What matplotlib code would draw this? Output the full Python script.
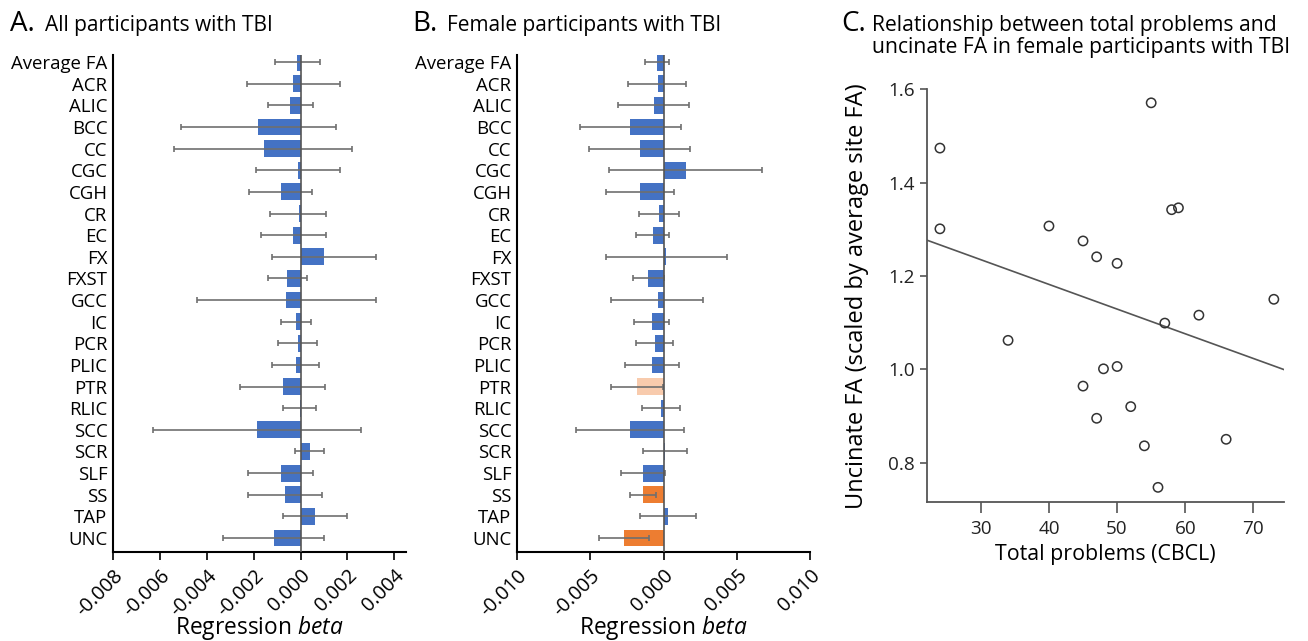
import numpy as np
import matplotlib
matplotlib.use('Agg')
import matplotlib.pyplot as plt
from matplotlib import rcParams

rcParams['font.family'] = 'Open Sans'
rcParams['mathtext.fontset'] = 'custom'
rcParams['mathtext.it'] = 'Open Sans:italic'
rcParams['mathtext.rm'] = 'Open Sans'

# Tract labels (top to bottom)
tracts = ['Average FA', 'ACR', 'ALIC', 'BCC', 'CC', 'CGC', 'CGH', 'CR', 'EC', 'FX',
          'FXST', 'GCC', 'IC', 'PCR', 'PLIC', 'PTR', 'RLIC', 'SCC', 'SCR', 'SLF',
          'SS', 'TAP', 'UNC']

# Panel A: all participants
beta_all = [-0.00014, -0.00033, -0.00043, -0.0018, -0.00157, -0.0001, -0.00085, -0.00005,
            -0.0003, 0.001, -0.00057, -0.0006, -0.0002, -0.0001, -0.0002, -0.00075,
            -0.00002, -0.00185, 0.0004, -0.00084, -0.00067, 0.00061, -0.00114]
lo_all = [-0.0011, -0.0023, -0.0014, -0.0051, -0.0054, -0.0019, -0.0022, -0.0013,
          -0.0017, -0.0012, -0.0014, -0.0044, -0.00085, -0.00095, -0.0012, -0.0026,
          -0.00074, -0.0063, -0.00023, -0.00225, -0.00225, -0.00075, -0.0033]
hi_all = [0.00085, 0.0017, 0.00053, 0.0015, 0.0022, 0.0017, 0.0005, 0.0011,
          0.00107, 0.0032, 0.00028, 0.0032, 0.00046, 0.0007, 0.0008, 0.00104,
          0.00064, 0.00256, 0.001, 0.00054, 0.0009, 0.002, 0.001]

# Panel B: female participants
beta_fem = [-0.00046, -0.0004, -0.00068, -0.0023, -0.0016, 0.0015, -0.0016, -0.0003,
            -0.00073, 0.00018, -0.00105, -0.0004, -0.00077, -0.0006, -0.00077, -0.0018,
            -0.00018, -0.0023, 0.0001, -0.0014, -0.0014, 0.00027, -0.0027]
lo_fem = [-0.0013, -0.0024, -0.0031, -0.0057, -0.0051, -0.0037, -0.0039, -0.00166,
          -0.0019, -0.0039, -0.0021, -0.0036, -0.002, -0.0019, -0.0026, -0.0036,
          -0.0015, -0.006, -0.00137, -0.0029, -0.0023, -0.0016, -0.0044]
hi_fem = [0.00036, 0.0015, 0.00175, 0.0012, 0.0018, 0.0067, 0.0007, 0.00105,
          0.00034, 0.0043, 0.0, 0.0027, 0.00036, 0.00064, 0.00105, -0.00007,
          0.00114, 0.00137, 0.0016, 0.0001, -0.0005, 0.0022, -0.001]
# significance class per tract in panel B: 0 = n.s., 1 = trend, 2 = significant
sig_fem = [0] * 15 + [1] + [0] * 4 + [2, 0, 2]

# Panel C: total problems vs uncinate FA
cbcl = [24, 24, 55, 40, 45, 47, 50, 58, 59, 73, 62, 57, 34, 48, 50, 45, 52, 47, 54, 66, 56]
unc_fa = [1.474, 1.301, 1.571, 1.307, 1.275, 1.241, 1.227, 1.342, 1.346, 1.15, 1.116,
          1.099, 1.062, 1.001, 1.006, 0.964, 0.92, 0.895, 0.836, 0.85, 0.747]

blue = '#4472c4'
sig_colors = {0: blue, 1: '#f8cbad', 2: '#ed7d31'}
err_col = '#6f6f6f'

fig = plt.figure(figsize=(13.08, 6.41), dpi=100)


def forest(ax, beta, lo, hi, colors, xlim, xticks, fmt):
    y = np.arange(len(tracts))
    beta = np.array(beta)
    ax.barh(y, beta, height=0.78, color=colors, zorder=2)
    err = np.vstack([beta - np.array(lo), np.array(hi) - beta])
    ax.errorbar(beta, y, xerr=err, fmt='none', ecolor=err_col, elinewidth=1.2,
                capsize=2.5, capthick=1.2, zorder=3)
    ax.axvline(0, color='#555555', lw=1.2, zorder=4)
    ax.set_ylim(22.65, -0.33)
    ax.set_xlim(*xlim)
    ax.set_yticks(y)
    ax.set_yticklabels(tracts, fontsize=13.4)
    ax.tick_params(axis='y', length=0, pad=4)
    ax.set_xticks(xticks)
    ax.set_xticklabels([fmt.format(t) for t in xticks], rotation=45, ha='right',
                       rotation_mode='anchor', fontsize=14.3)
    ax.tick_params(axis='x', length=6, width=1.2, direction='out', pad=4)
    for s in ['top', 'right']:
        ax.spines[s].set_visible(False)
    for s in ['left', 'bottom']:
        ax.spines[s].set_linewidth(1.5)
    ax.set_xlabel(r'Regression $\it{beta}$', fontsize=16.4)
    ax.xaxis.set_label_coords(0.5, -0.124)


axA = fig.add_axes([0.0864, 0.1388, 0.2240, 0.7754])
forest(axA, beta_all, lo_all, hi_all, [blue] * len(tracts), (-0.008, 0.0045),
       [-0.008, -0.006, -0.004, -0.002, 0.0, 0.002, 0.004], '{:.3f}')

axB = fig.add_axes([0.3953, 0.1388, 0.2240, 0.7754])
forest(axB, beta_fem, lo_fem, hi_fem, [sig_colors[s] for s in sig_fem], (-0.010, 0.010),
       [-0.010, -0.005, 0.0, 0.005, 0.010], '{:.3f}')

# Panel C scatter
axC = fig.add_axes([0.7087, 0.2164, 0.2730, 0.6443])
axC.scatter(cbcl, unc_fa, s=45, facecolors='none', edgecolors='#333333', linewidths=1.1, zorder=3)
slope, icpt = np.polyfit(cbcl, unc_fa, 1)
xl = np.array([22.1, 74.5])
axC.plot(xl, icpt + slope * xl, color='#555555', lw=1.2)
axC.set_xlim(22.1, 74.5)
axC.set_ylim(0.715, 1.6)
axC.set_xticks([30, 40, 50, 60, 70])
axC.set_yticks([0.8, 1.0, 1.2, 1.4, 1.6])
axC.set_yticklabels(['0.8', '1.0', '1.2', '1.4', '1.6'])
axC.tick_params(labelsize=13.6, length=5, width=1.2, color='#555555', labelcolor='#222222')
axC.tick_params(axis='x', length=8, pad=5)
for s in ['top', 'right']:
    axC.spines[s].set_visible(False)
for s in ['left', 'bottom']:
    axC.spines[s].set_linewidth(1.3)
    axC.spines[s].set_color('#555555')
axC.set_xlabel('Total problems (CBCL)', fontsize=15.4, labelpad=4)
axC.set_ylabel('Uncinate FA (scaled by average site FA)', fontsize=17, labelpad=14)

# Panel titles
fig.text(10 / 1308, 1 - 31 / 641, 'A.', fontsize=20, va='baseline')
fig.text(45 / 1308, 1 - 31 / 641, 'All participants with TBI', fontsize=15, va='baseline')
fig.text(412 / 1308, 1 - 31 / 641, 'B.', fontsize=20, va='baseline')
fig.text(447 / 1308, 1 - 31 / 641, 'Female participants with TBI', fontsize=15, va='baseline')
fig.text(841 / 1308, 1 - 31 / 641, 'C.', fontsize=20, va='baseline')
fig.text(872 / 1308, 1 - 31 / 641, 'Relationship between total problems and', fontsize=15.2, va='baseline')
fig.text(872 / 1308, 1 - 53 / 641, 'uncinate FA in female participants with TBI', fontsize=15.2, va='baseline')

fig.savefig('out.png', dpi=100)
